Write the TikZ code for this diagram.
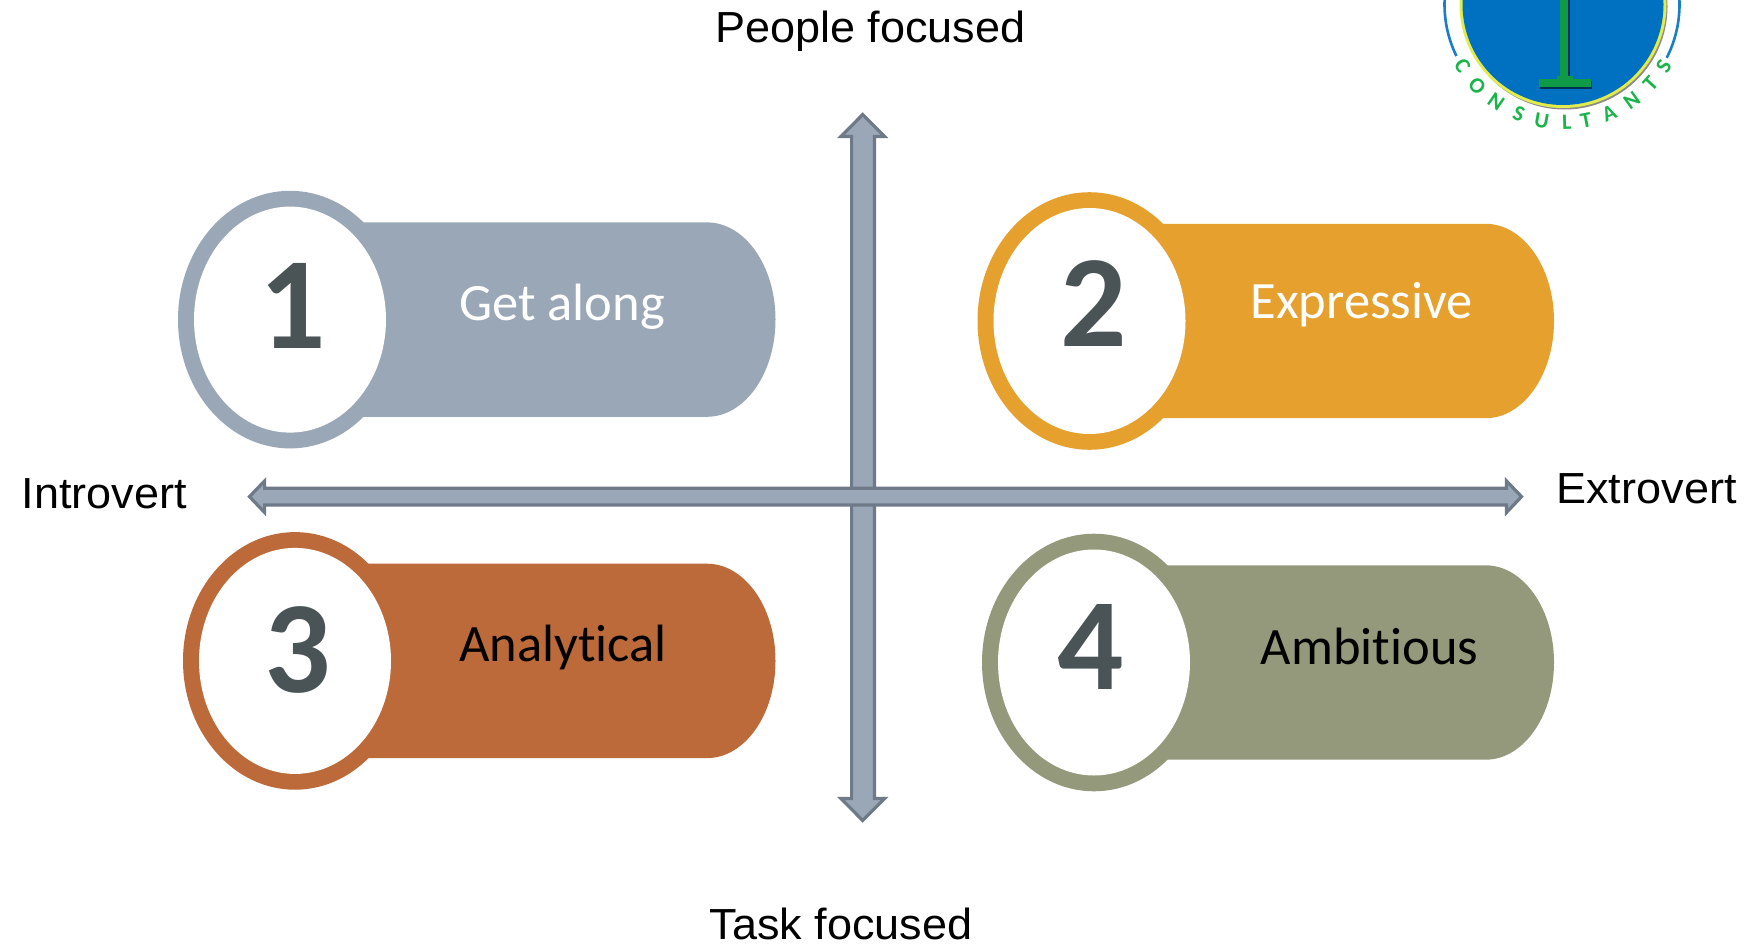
\documentclass[tikz,border=0pt]{standalone}
\usepackage{fontspec}
\setmainfont{Carlito}[Ligatures=NoCommon]
\newfontfamily\axisfont{Liberation Sans}[FakeStretch=1.035]
\definecolor{slateFill}{HTML}{9AA7B7}
\definecolor{slateEdge}{HTML}{6F7A88}
\definecolor{amberFill}{HTML}{E5A02D}
\definecolor{rustFill}{HTML}{BD6A3A}
\definecolor{oliveFill}{HTML}{93997A}
\definecolor{digitInk}{HTML}{4A5356}
\definecolor{logoBlue}{HTML}{0070C0}
\definecolor{logoYellow}{HTML}{E2EC4A}
\definecolor{logoGreen}{HTML}{0F9A48}
\definecolor{logoText}{HTML}{19B54A}
\tikzset{
  axislabel/.style={font=\axisfont\fontsize{43.5}{50}\selectfont,text=black,anchor=base,inner sep=0pt},
  pilllabel/.style={font=\fontsize{52.5}{60}\selectfont,anchor=base,inner sep=0pt},
  digit/.style={font=\fontsize{131}{150}\selectfont\bfseries,text=digitInk,anchor=base,inner sep=0pt},
  axisarrow/.style={fill=slateFill,draw=slateEdge,line width=3.2pt,miter limit=6},
  logoletter/.style={font=\fontsize{22}{25}\selectfont\bfseries,text=logoText,inner sep=0pt},
}
% cx cy barRight colour
\newcommand{\pillshape}[4]{%
  \fill[#4] ({#1},{#2}) ellipse [x radius=112,y radius=128.8];
  \fill[#4] ({#1+50},{#2-97.2}) -- ({#3-68.5},{#2-97.2})
     arc [start angle=-90,end angle=90,x radius=68.5,y radius=97.2]
     -- ({#1+50},{#2+97.2}) -- cycle;
  \fill[white] ({#1},{#2}) ellipse [x radius=96,y radius=113];
}
\begin{document}
\begin{tikzpicture}[x=1pt,y=-1pt]
\clip (0,0) rectangle (1747,945);
\fill[white] (0,0) rectangle (1747,945);
% pills
\pillshape{290}{319.6}{775.5}{slateFill}
\pillshape{1089.5}{321}{1554}{amberFill}
\pillshape{295}{660.9}{775.5}{rustFill}
\pillshape{1094}{662.5}{1554}{oliveFill}
% digits
\node[digit] (d1) at (292.5,348) {1};
\node[digit] (d2) at (1093.5,346) {2};
\node[digit] (d3) at (298,692) {3};
\node[digit] (d4) at (1090.5,689) {4};
% pill labels
\node[pilllabel,text=white] (l1) at (562,320.5) {Get along};
\node[pilllabel,text=white] (l2) at (1361.5,318.5) {Expressive};
\node[pilllabel,text=black] (l3) at (563,661) {Analytical};
\node[pilllabel,text=black] (l4) at (1369.5,664) {Ambitious};
% vertical axis
\draw[axisarrow] (862.7,114.5) -- (884.5,136.5) -- (874.4,136.5) -- (874.4,798.5) -- (884.5,798.5)
  -- (862.7,820.5) -- (840.9,798.5) -- (851.6,798.5) -- (851.6,136.5) -- (840.9,136.5) -- cycle;
% horizontal axis
\draw[axisarrow] (249.5,496.6) -- (264.6,481) -- (264.6,488.3) -- (1506.5,488.3) -- (1506.5,481)
  -- (1521.5,496.6) -- (1506.5,512.5) -- (1506.5,505) -- (264.6,505) -- (264.6,512.5) -- cycle;
% axis labels
\node[axislabel] (top) at (870.3,42.5) {People focused};
\node[axislabel] (bottom) at (841,939) {Task focused};
\node[axislabel] (left) at (104.2,508.3) {Introvert};
\node[axislabel] (right) at (1646.5,503.3) {Extrovert};
% logo
\draw[logoBlue!90!white,line width=2.6pt] (1562,4.5) ++(154:117.5) arc [start angle=154,end angle=190,radius=117.5];
\draw[logoBlue!90!white,line width=2.6pt] (1562,4.5) ++(27:117.5) arc [start angle=27,end angle=-10,radius=117.5];
\fill[black!45] (1564.5,6.5) circle [radius=103];
\fill[logoYellow] (1563,4.5) circle [radius=103.5];
\fill[logoBlue] (1563,4.5) circle [radius=100.5];
\fill[black!55!logoBlue] (1561.5,-2) rectangle (1569.5,78);
\fill[black!55!logoBlue] (1540,81) rectangle (1592,88.5);
\fill[logoGreen] (1560,-2) rectangle (1568.3,77);
\fill[logoGreen] (1557,76) rectangle (1572.7,80);
\fill[logoGreen] (1538.7,79.3) rectangle (1590.7,87.3);
\foreach \ch/\ang in {C/211.5,O/223.4,N/235.5,S/248,U/259.6,L/271.8,T/281.3,A/293,N/305.7,T/317.8,S/328.6}{
  \node[logoletter,rotate=\ang+90] at ({1563+118*cos(\ang)},{4.5-118*sin(\ang)}) {\ch};
}
\end{tikzpicture}
\end{document}
